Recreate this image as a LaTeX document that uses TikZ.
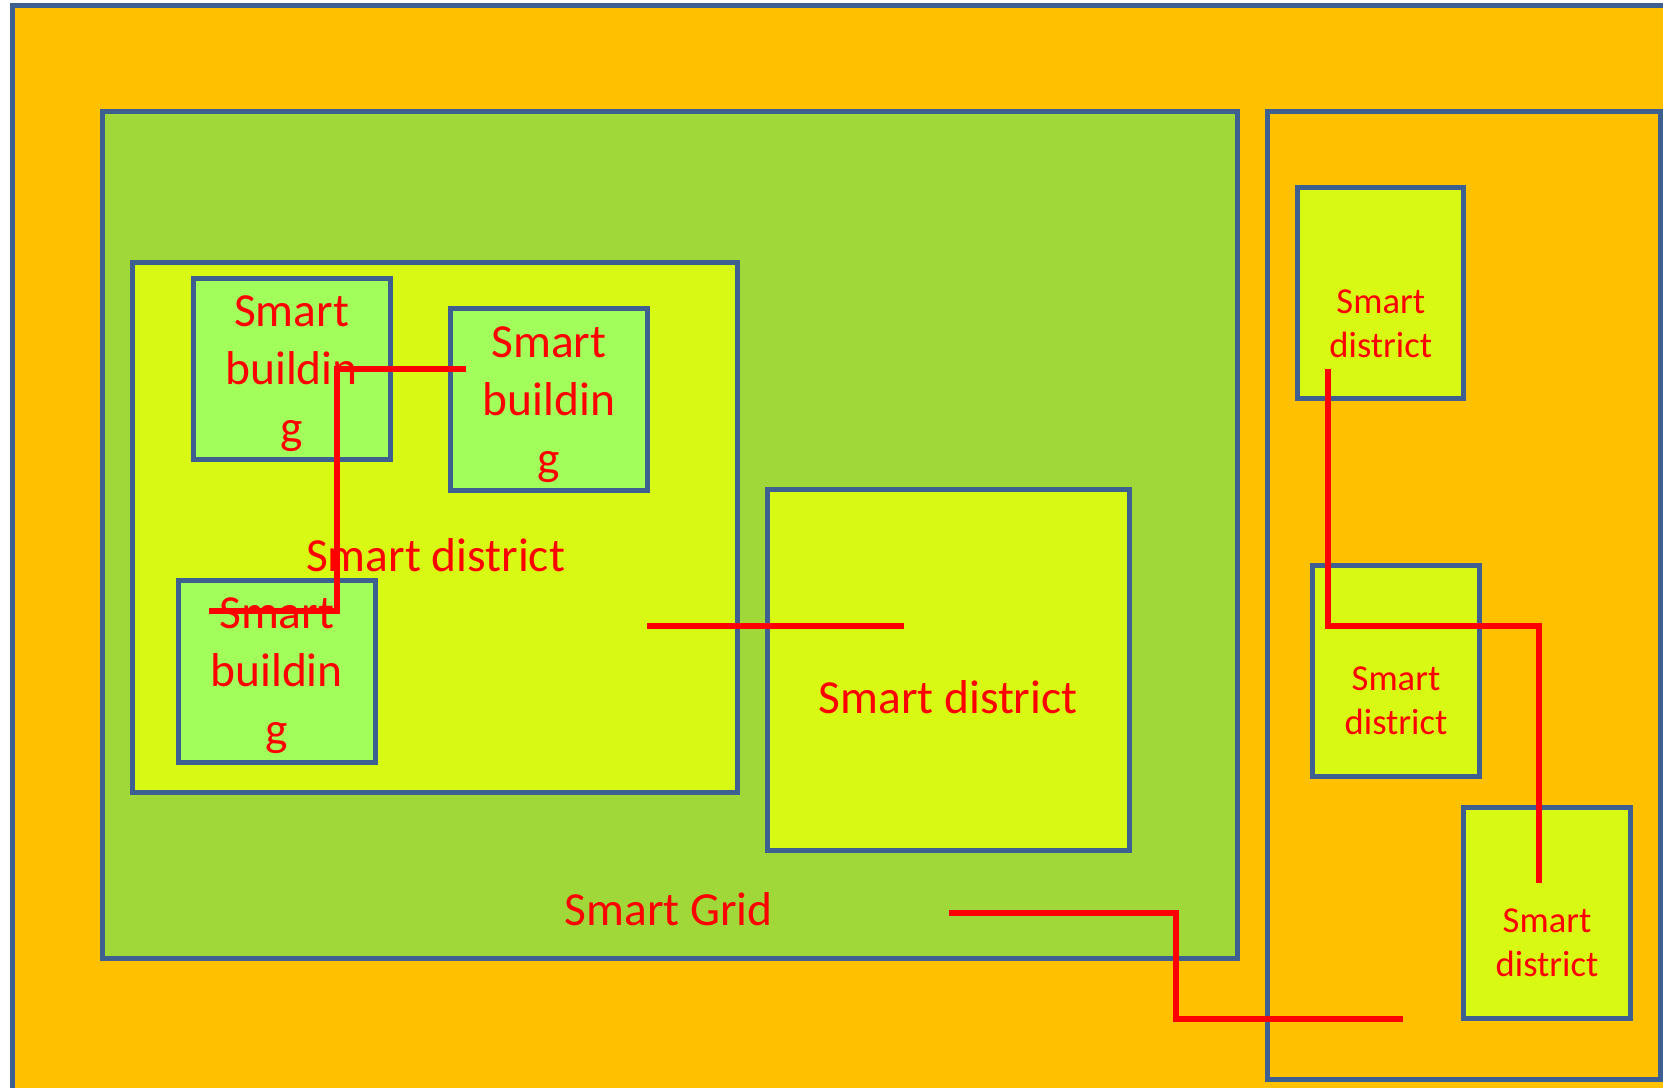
\documentclass[tikz,border=0pt]{standalone}
\usepackage{fontspec}
\setmainfont{Carlito}
\usepackage{tikz}
\definecolor{outerorange}{HTML}{FFC000}
\definecolor{gridgreen}{HTML}{A0D739}
\definecolor{distyellow}{HTML}{D7F913}
\definecolor{bldggreen}{HTML}{A2FE5A}
\definecolor{boxblue}{HTML}{3D6090}
\begin{document}
\begin{tikzpicture}[x=0.01cm,y=-0.01cm,
    box/.style={draw=boxblue, line width=0.05cm, inner sep=0pt},
    bldg/.style={box, fill=bldggreen, minimum width=1.97cm, minimum height=1.815cm},
    dist/.style={box, fill=distyellow, minimum width=1.66cm, minimum height=2.11cm},
    biglabel/.style={text=red, font=\fontsize{13.5pt}{16.5pt}\selectfont, align=center, anchor=base, inner sep=0pt},
    smalllabel/.style={text=red, font=\fontsize{10.4pt}{12.5pt}\selectfont, align=center, anchor=base, inner sep=0pt},
    wire/.style={red, line width=0.058cm}]
      % page
      \useasboundingbox (0,0) rectangle (1663,1088);
      \fill[white] (0,0) rectangle (1663,1088);
      \clip (0,0) rectangle (1663,1088);
      % outer area
      \filldraw[fill=outerorange, draw=boxblue, line width=0.05cm] (12.5,5.5) rectangle (1720,1140);
      % smart grid and right area
      \node[box, fill=gridgreen, minimum width=11.345cm, minimum height=8.465cm] (grid) at (669.75,534.75) {};
      \node[box, fill=outerorange, minimum width=3.93cm, minimum height=9.68cm] (area) at (1464,595.5) {};
      % districts
      \node[box, fill=distyellow, minimum width=6.05cm, minimum height=5.295cm] (distA) at (435,527.25) {};
      \node[box, fill=distyellow, minimum width=3.615cm, minimum height=3.606cm] (distB) at (948.75,670.3) {};
      \node[dist] (distC) at (1380.75,293.15) {};
      \node[dist] (distD) at (1396,671.2) {};
      \node[dist] (distE) at (1547,913) {};
      % buildings
      \node[bldg] (bldgA) at (291.6,368.85) {};
      \node[bldg] (bldgB) at (548.85,399.25) {};
      \node[bldg] (bldgC) at (276.7,671.25) {};
      % labels (base = last line)
      \node[biglabel] (bldgAtext) at (291.6,443) {Smart\\buildin\\g};
      \node[biglabel] (bldgBtext) at (548.85,474) {Smart\\buildin\\g};
      \node[biglabel] (bldgCtext) at (276.7,745) {Smart\\buildin\\g};
      \node[biglabel] (distAtext) at (435.5,571) {Smart district};
      \node[biglabel] (distBtext) at (948,713.3) {Smart district};
      \node[biglabel] (gridtext) at (668.8,925) {Smart Grid};
      \node[smalllabel] (distCtext) at (1380.75,357.3) {Smart\\district};
      \node[smalllabel] (distDtext) at (1396,734) {Smart\\district};
      \node[smalllabel] (distEtext) at (1547,976.7) {Smart\\district};
      % wires
      \coordinate (w1a) at (465.7,369);
      \coordinate (w1k) at (337.3,369);
      \coordinate (w1l) at (337.3,611);
      \coordinate (w1b) at (209,611);
      \coordinate (w2a) at (647.3,625.8);
      \coordinate (w2b) at (904.3,625.8);
      \coordinate (w3a) at (949.3,913);
      \coordinate (w3k) at (1176.3,913);
      \coordinate (w3l) at (1176.3,1019);
      \coordinate (w3b) at (1403,1019);
      \coordinate (w4a) at (1328,369);
      \coordinate (w4k) at (1328,626);
      \coordinate (w4l) at (1539,626);
      \coordinate (w4b) at (1539,883);
      \draw[wire] (w1a) -- (w1k) -- (w1l) -- (w1b);
      \draw[wire] (w2a) -- (w2b);
      \draw[wire] (w3a) -- (w3k) -- (w3l) -- (w3b);
      \draw[wire] (w4a) -- (w4k) -- (w4l) -- (w4b);
\end{tikzpicture}
\end{document}
